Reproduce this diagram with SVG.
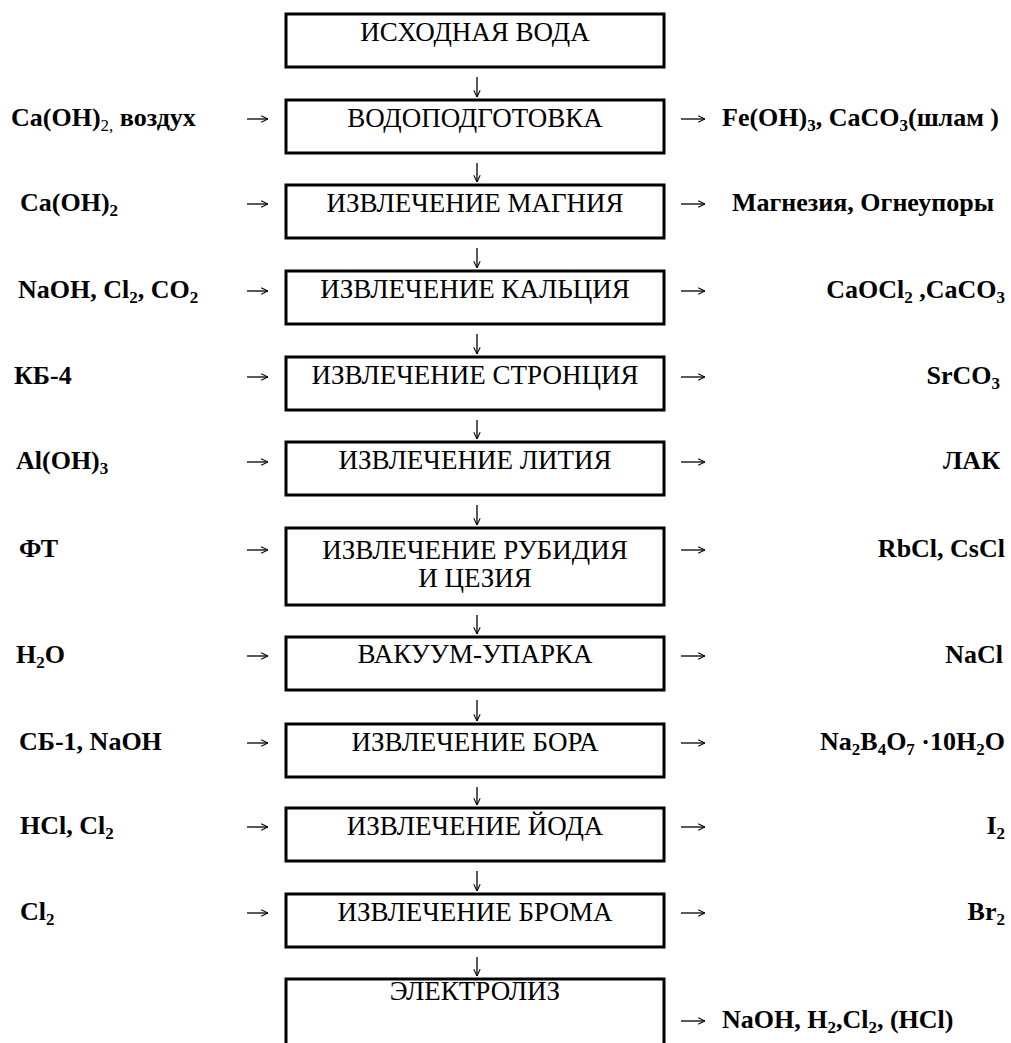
<svg xmlns="http://www.w3.org/2000/svg" width="1011" height="1043" viewBox="0 0 1011 1043">
  <style>
    .box { fill: none; stroke: #000; stroke-width: 3; }
    .step { font-family: "Liberation Serif", "Times New Roman", "DejaVu Serif", serif; font-size: 27px; text-anchor: middle; fill: #000; }
    .chem { font-family: "Liberation Serif", "Times New Roman", "DejaVu Serif", serif; font-size: 26px; font-weight: bold; fill: #000; }
    .end { text-anchor: end; }
    .sub { font-size: 17px; }
    .arr { stroke: #000; stroke-width: 1.3; fill: none; }
  </style>
  <defs>
    <marker id="head" viewBox="0 0 10 10" refX="9.5" refY="5" markerWidth="8" markerHeight="8" markerUnits="userSpaceOnUse" orient="auto">
      <path d="M1,1 L9.5,5 L1,9" fill="none" stroke="#000" stroke-width="1.3"/>
    </marker>
  </defs>

  <!-- process steps -->
  <g id="step-source">
    <rect class="box" x="286" y="14" width="378" height="53"/>
    <text class="step" x="475" y="41">ИСХОДНАЯ ВОДА</text>
  </g>

  <g id="step-pretreatment">
    <rect class="box" x="286" y="100" width="378" height="53"/>
    <text class="step" x="475" y="127">ВОДОПОДГОТОВКА</text>
    <text class="chem" x="11" y="126">Ca(OH)<tspan class="sub" dy="5" font-weight="normal">2,</tspan><tspan dy="-5"> воздух</tspan></text>
    <text class="chem" x="722" y="126">Fe(OH)<tspan class="sub" dy="5">3</tspan><tspan dy="-5">, CaCO</tspan><tspan class="sub" dy="5">3</tspan><tspan dy="-5">(шлам )</tspan></text>
  </g>

  <g id="step-magnesium">
    <rect class="box" x="286" y="185" width="378" height="53"/>
    <text class="step" x="475" y="212">ИЗВЛЕЧЕНИЕ МАГНИЯ</text>
    <text class="chem" x="20" y="211">Ca(OH)<tspan class="sub" dy="5">2</tspan></text>
    <text class="chem" x="732" y="211">Магнезия, Огнеупоры</text>
  </g>

  <g id="step-calcium">
    <rect class="box" x="286" y="271" width="378" height="53"/>
    <text class="step" x="475" y="298">ИЗВЛЕЧЕНИЕ КАЛЬЦИЯ</text>
    <text class="chem" x="18" y="298">NaOH, Cl<tspan class="sub" dy="5">2</tspan><tspan dy="-5">, CO</tspan><tspan class="sub" dy="5">2</tspan></text>
    <text class="chem end" x="1005" y="298">CaOCl<tspan class="sub" dy="5">2</tspan><tspan dy="-5"> ,CaCO</tspan><tspan class="sub" dy="5">3</tspan></text>
  </g>

  <g id="step-strontium">
    <rect class="box" x="286" y="357" width="378" height="53"/>
    <text class="step" x="475" y="384">ИЗВЛЕЧЕНИЕ СТРОНЦИЯ</text>
    <text class="chem" x="14" y="384">КБ-4</text>
    <text class="chem end" x="1000" y="384">SrCO<tspan class="sub" dy="5">3</tspan></text>
  </g>

  <g id="step-lithium">
    <rect class="box" x="286" y="442" width="378" height="53"/>
    <text class="step" x="475" y="469">ИЗВЛЕЧЕНИЕ ЛИТИЯ</text>
    <text class="chem" x="16" y="469">Al(OH)<tspan class="sub" dy="5">3</tspan></text>
    <text class="chem end" x="1000" y="469">ЛАК</text>
  </g>

  <g id="step-rubidium-cesium">
    <rect class="box" x="286" y="528" width="378" height="77"/>
    <text class="step" x="475" y="559">ИЗВЛЕЧЕНИЕ РУБИДИЯ</text>
    <text class="step" x="475" y="587">И ЦЕЗИЯ</text>
    <text class="chem" x="19" y="557">ФТ</text>
    <text class="chem end" x="1005" y="557">RbCl, CsCl</text>
  </g>

  <g id="step-evaporation">
    <rect class="box" x="286" y="637" width="378" height="53"/>
    <text class="step" x="475" y="663">ВАКУУМ-УПАРКА</text>
    <text class="chem" x="16" y="663">H<tspan class="sub" dy="5">2</tspan><tspan dy="-5">O</tspan></text>
    <text class="chem end" x="1003" y="663">NaCl</text>
  </g>

  <g id="step-boron">
    <rect class="box" x="286" y="724" width="378" height="53"/>
    <text class="step" x="475" y="751">ИЗВЛЕЧЕНИЕ БОРА</text>
    <text class="chem" x="19" y="750">СБ-1, NaOH</text>
    <text class="chem end" x="1005" y="750">Na<tspan class="sub" dy="5">2</tspan><tspan dy="-5">B</tspan><tspan class="sub" dy="5">4</tspan><tspan dy="-5">O</tspan><tspan class="sub" dy="5">7</tspan><tspan dy="-5"> ·10H</tspan><tspan class="sub" dy="5">2</tspan><tspan dy="-5">O</tspan></text>
  </g>

  <g id="step-iodine">
    <rect class="box" x="286" y="808" width="378" height="53"/>
    <text class="step" x="475" y="835">ИЗВЛЕЧЕНИЕ ЙОДА</text>
    <text class="chem" x="20" y="834">HCl, Cl<tspan class="sub" dy="5">2</tspan></text>
    <text class="chem end" x="1005" y="834">I<tspan class="sub" dy="5">2</tspan></text>
  </g>

  <g id="step-bromine">
    <rect class="box" x="286" y="894" width="378" height="53"/>
    <text class="step" x="475" y="921">ИЗВЛЕЧЕНИЕ БРОМА</text>
    <text class="chem" x="20" y="920">Cl<tspan class="sub" dy="5">2</tspan></text>
    <text class="chem end" x="1005" y="920">Br<tspan class="sub" dy="5">2</tspan></text>
  </g>

  <g id="step-electrolysis">
    <path class="box" d="M286,1043 V979 H664 V1043"/>
    <text class="step" x="475" y="1000">ЭЛЕКТРОЛИЗ</text>
    <text class="chem" x="722" y="1028">NaOH, H<tspan class="sub" dy="5">2</tspan><tspan dy="-5">,Cl</tspan><tspan class="sub" dy="5">2</tspan><tspan dy="-5">, (HCl)</tspan></text>
  </g>

  <!-- connectors: main flow downwards, reagents in, products out -->
  <g id="connectors" class="arr" marker-end="url(#head)">
    <line x1="477" y1="77" x2="477" y2="97"/>
    <line x1="477" y1="163" x2="477" y2="182"/>
    <line x1="477" y1="248" x2="477" y2="268"/>
    <line x1="477" y1="334" x2="477" y2="354"/>
    <line x1="477" y1="420" x2="477" y2="439"/>
    <line x1="477" y1="505" x2="477" y2="525"/>
    <line x1="477" y1="615" x2="477" y2="634"/>
    <line x1="477" y1="700" x2="477" y2="721"/>
    <line x1="477" y1="787" x2="477" y2="805"/>
    <line x1="477" y1="871" x2="477" y2="891"/>
    <line x1="477" y1="957" x2="477" y2="976"/>

    <line x1="247" y1="119" x2="268" y2="119"/>
    <line x1="247" y1="204" x2="268" y2="204"/>
    <line x1="247" y1="291" x2="268" y2="291"/>
    <line x1="247" y1="377" x2="268" y2="377"/>
    <line x1="247" y1="462" x2="268" y2="462"/>
    <line x1="247" y1="550" x2="268" y2="550"/>
    <line x1="247" y1="656" x2="268" y2="656"/>
    <line x1="247" y1="743" x2="268" y2="743"/>
    <line x1="247" y1="827" x2="268" y2="827"/>
    <line x1="247" y1="913" x2="268" y2="913"/>

    <line x1="681" y1="119" x2="705" y2="119"/>
    <line x1="681" y1="204" x2="705" y2="204"/>
    <line x1="681" y1="291" x2="705" y2="291"/>
    <line x1="681" y1="377" x2="705" y2="377"/>
    <line x1="681" y1="462" x2="705" y2="462"/>
    <line x1="681" y1="550" x2="705" y2="550"/>
    <line x1="681" y1="656" x2="705" y2="656"/>
    <line x1="681" y1="743" x2="705" y2="743"/>
    <line x1="681" y1="827" x2="705" y2="827"/>
    <line x1="681" y1="913" x2="705" y2="913"/>
    <line x1="681" y1="1021" x2="705" y2="1021"/>
  </g>
</svg>
